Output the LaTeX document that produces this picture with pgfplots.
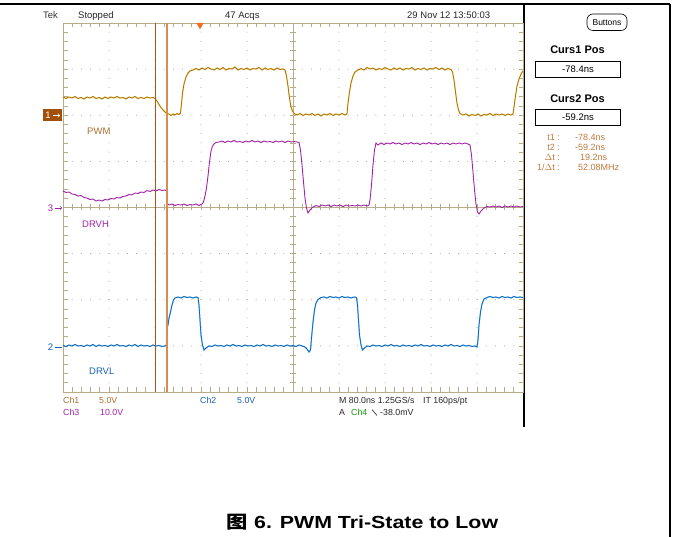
\documentclass[border=0pt]{standalone}
\usepackage{pgfplots}
\pgfplotsset{compat=1.18}
\usepackage{pgfplotstable}
\usepackage{graphicx}
\usepackage{fontspec}
\setmainfont{Liberation Sans}
\newfontfamily\cjk{Noto Sans CJK SC}
\definecolor{gridc}{RGB}{183,172,135}
\definecolor{dotc}{RGB}{150,150,135}
\definecolor{pwmc}{RGB}{175,105,15}
\definecolor{pwmy}{RGB}{235,210,40}
\definecolor{ch1t}{RGB}{175,110,45}
\definecolor{ch3c}{RGB}{160,35,165}
\definecolor{ch2c}{RGB}{25,95,190}
\definecolor{ch2h}{RGB}{20,170,225}
\definecolor{cur1}{RGB}{160,90,35}
\definecolor{cur2}{RGB}{215,140,80}
\definecolor{trigc}{RGB}{240,110,30}
\definecolor{readc}{RGB}{190,120,60}
\definecolor{ch4c}{RGB}{20,150,20}
\definecolor{boxc}{RGB}{160,80,10}

\pgfplotstableread[row sep=\\]{
x y\\
63 97\\ 66 98.5\\ 69 97\\ 72 98\\ 75 96.5\\ 78 98.5\\ 81 97.5\\ 84 99\\ 87 97\\ 90 98\\
93 96.5\\ 96 98.5\\ 99 97.5\\ 102 99\\ 105 97\\ 108 98.5\\ 111 97\\ 114 98\\ 117 96.5\\ 120 98\\
123 97.5\\ 126 99\\ 129 97\\ 132 98\\ 135 96.5\\ 138 98.5\\ 141 97.5\\ 144 98.5\\ 147 97\\ 150 98\\
153 97.5\\ 155 98.5\\ 157 101\\ 159 104.5\\ 161 107.5\\ 163 110\\ 165 112\\ 167 113.5\\ 169 114\\ 171 115.5\\
173 114\\ 175 115\\ 177 113.5\\ 179 114.5\\ 180.5 113\\ 181.5 104\\ 182.5 93\\ 184 84\\ 186 77\\ 188 73\\
190 71\\ 193 70\\ 196 68.5\\ 199 70\\ 202 68\\ 205 69.5\\ 208 67.5\\ 211 69\\ 214 70\\ 217 68\\
220 69.5\\ 223 67.5\\ 226 70\\ 229 68.5\\ 232 69\\ 235 67\\ 238 70\\ 241 68.5\\ 244 69.5\\ 247 68\\
250 70\\ 253 68.5\\ 256 69\\ 259 67.5\\ 262 70\\ 265 68\\ 268 69.5\\ 271 68.5\\ 274 70\\ 277 68\\
280 69.5\\ 283 69\\ 285 70\\ 286.5 76\\ 288 86\\ 289.5 98\\ 291 107\\ 292.5 111\\ 294 113.5\\ 297 115\\
300 113.5\\ 303 115.5\\ 306 114\\ 309 115\\ 312 113.5\\ 315 115.5\\ 318 114\\ 321 116\\ 324 114\\ 327 115\\
330 113.5\\ 333 115.5\\ 336 114\\ 339 115\\ 342 113.5\\ 345 115\\ 347 114\\ 348 103\\ 349.5 92\\ 351 83\\
353 76\\ 355 72\\ 358 70\\ 361 68.5\\ 364 70\\ 367 67.5\\ 370 69\\ 373 68\\ 376 70\\ 379 68.5\\
382 69.5\\ 385 67.5\\ 388 69\\ 391 70\\ 394 68\\ 397 69.5\\ 400 68\\ 403 70\\ 406 68.5\\ 409 69\\
412 67.5\\ 415 70\\ 418 68.5\\ 421 69.5\\ 424 68\\ 427 70\\ 430 68.5\\ 433 69\\ 436 67.5\\ 439 69.5\\
442 68\\ 445 70\\ 448 68.5\\ 451 69.5\\ 452.5 72\\ 454 80\\ 455.5 92\\ 457 103\\ 458.5 110\\ 460 113.5\\
463 115\\ 466 114\\ 469 116\\ 472 114.5\\ 475 115.5\\ 478 114\\ 481 116\\ 484 114.5\\ 487 115\\ 490 113.5\\
493 115.5\\ 496 114\\ 499 115\\ 502 114\\ 505 115.5\\ 508 114\\ 511 115\\ 513 114\\ 514 107\\ 515.5 96\\
517 86\\ 519 79\\ 521 74\\ 523 71\\
}\pwmtab

\pgfplotstableread[row sep=\\]{
x y\\
63 191\\ 66 192.5\\ 69 192\\ 72 194\\ 75 194.5\\ 78 196\\ 81 195.5\\ 84 197.5\\ 87 198\\ 90 199.5\\
93 199\\ 96 201\\ 99 200\\ 102 201\\ 105 199.5\\ 108 200\\ 111 198.5\\ 114 199\\ 117 197.5\\ 120 198\\
123 196.5\\ 126 196\\ 129 194.5\\ 132 195\\ 135 193\\ 138 193.5\\ 141 192\\ 144 192.5\\ 147 190.5\\ 150 191.5\\
153 190\\ 156 191\\ 159 189.5\\ 162 190.5\\ 165 190\\ 166.5 191\\ 167 203\\ 169 205\\ 172 204\\ 175 205.5\\
178 204.5\\ 181 205\\ 184 204\\ 187 205.5\\ 190 204.5\\ 193 205\\ 196 204\\ 199 205.5\\ 202 204\\ 203.5 202\\
205 196\\ 206.5 188\\ 208 176\\ 209.5 162\\ 211 151\\ 212.5 146\\ 214 144\\ 216 142.5\\ 219 142\\ 222 141\\
225 142.5\\ 228 141\\ 231 142\\ 234 140.5\\ 237 142\\ 240 141.5\\ 243 142.5\\ 246 141\\ 249 142\\ 252 140.5\\
255 142\\ 258 141\\ 261 142.5\\ 264 141\\ 267 142\\ 270 141.5\\ 273 142.5\\ 276 141\\ 279 142\\ 282 141\\
285 142.5\\ 288 141\\ 291 142\\ 294 141.5\\ 297 142\\ 299 142.5\\ 300.5 150\\ 302 165\\ 303.5 182\\ 305 198\\
306.5 208\\ 308 213\\ 310 210\\ 313 207\\ 316 205.5\\ 319 206.5\\ 322 205\\ 325 206\\ 328 205\\ 331 206.5\\
334 205\\ 337 206\\ 340 205\\ 343 206.5\\ 346 205\\ 349 206\\ 352 205.5\\ 355 206\\ 358 205\\ 361 206\\
364 205\\ 367 206\\ 369 205\\ 370 200\\ 371.5 185\\ 373 165\\ 374.5 150\\ 376 143\\ 378 145\\ 381 143\\
384 144.5\\ 387 143\\ 390 144\\ 393 142.5\\ 396 144\\ 399 143\\ 402 144.5\\ 405 143\\ 408 144\\ 411 142.5\\
414 144\\ 417 143\\ 420 144.5\\ 423 143\\ 426 144\\ 429 142.5\\ 432 144\\ 435 143\\ 438 144.5\\ 441 143\\
444 144\\ 447 143\\ 450 144.5\\ 453 143\\ 456 144\\ 459 143\\ 462 144\\ 465 143\\ 468 144\\ 470 145\\
471.5 155\\ 473 172\\ 474.5 190\\ 476 204\\ 477.5 212\\ 479 214\\ 481 211\\ 484 208\\ 487 206.5\\ 490 207\\
493 206\\ 496 207\\ 499 206\\ 502 207.5\\ 505 206\\ 508 207\\ 511 206\\ 514 207\\ 517 206\\ 520 207\\
523 206.5\\
}\drvhtab

\pgfplotstableread[row sep=\\]{
x y\\
63 345.5\\ 66 346.5\\ 69 345\\ 72 346\\ 75 344.5\\ 78 346\\ 81 345.5\\ 84 346.5\\ 87 345\\ 90 346\\
93 344.5\\ 96 346.5\\ 99 345\\ 102 346\\ 105 345.5\\ 108 346.5\\ 111 345\\ 114 346\\ 117 344.5\\ 120 346\\
123 345.5\\ 126 346.5\\ 129 345\\ 132 346\\ 135 344.5\\ 138 346.5\\ 141 345\\ 144 346\\ 147 345.5\\ 150 346.5\\
153 345\\ 156 346\\ 159 345.5\\ 162 346.5\\ 165 346\\ 166.5 345\\ 167 328\\ 168 325\\ 169 318\\ 170.5 312\\
172 305\\ 173.5 300\\ 175 298\\ 178 297\\ 181 298\\ 184 296.5\\ 187 297.5\\ 190 297\\ 193 298\\ 196 297\\
198 297.5\\ 199 305\\ 200 320\\ 201 335\\ 202.5 345\\ 204 350\\ 206 348\\ 209 346\\ 212 346.5\\ 215 345\\
218 346\\ 221 345.5\\ 224 346.5\\ 227 345\\ 230 346\\ 233 344.5\\ 236 346\\ 239 345.5\\ 242 346.5\\ 245 345\\
248 346\\ 251 345.5\\ 254 346.5\\ 257 345\\ 260 346\\ 263 344.5\\ 266 346\\ 269 345.5\\ 272 346.5\\ 275 345\\
278 346\\ 281 345.5\\ 284 346.5\\ 287 345\\ 290 346\\ 293 345.5\\ 296 346.5\\ 299 345\\ 302 346\\ 305 347\\
307 349\\ 309 352\\ 310.5 350\\ 311.5 338\\ 313 322\\ 314.5 310\\ 316 303\\ 318 299.5\\ 321 297.5\\ 324 297\\
327 298\\ 330 296.5\\ 333 297.5\\ 336 297\\ 339 298\\ 342 296.5\\ 345 297.5\\ 348 297\\ 351 298\\ 354 297\\
356.5 297.5\\ 357.5 305\\ 358.5 320\\ 359.5 335\\ 361 345\\ 362.5 350\\ 364.5 348\\ 367 346\\ 370 346.5\\ 373 345\\
376 346\\ 379 345.5\\ 382 346.5\\ 385 345\\ 388 346\\ 391 344.5\\ 394 346\\ 397 345.5\\ 400 346.5\\ 403 345\\
406 346\\ 409 345.5\\ 412 346.5\\ 415 345\\ 418 346\\ 421 344.5\\ 424 346\\ 427 345.5\\ 430 346.5\\ 433 345\\
436 346\\ 439 345.5\\ 442 346.5\\ 445 345\\ 448 346\\ 451 344.5\\ 454 346\\ 457 345.5\\ 460 346.5\\ 463 345\\
466 346\\ 469 345.5\\ 472 346.5\\ 475 346\\ 477 347\\ 478 340\\ 479 325\\ 480.5 312\\ 482 304\\ 484 299\\
487 297.5\\ 490 296.5\\ 493 297.5\\ 496 297\\ 499 298\\ 502 296.5\\ 505 297.5\\ 508 297\\ 511 298\\ 514 296.5\\
517 297.5\\ 520 297\\ 523 297.5\\
}\drvltab

\begin{document}
\begin{tikzpicture}
\useasboundingbox (0pt,0pt) rectangle (673pt,-537pt);
\begin{scope}[x=1pt,y=-1pt]
% frame lines
\draw[black, line width=1.3pt] (0,4) -- (670,4);
\draw[black, line width=1.3pt] (524,4) -- (524,427);
\draw[black, line width=1.3pt] (670,4) -- (670,537);
% dotted graticule
\foreach \i in {1,2,3,4,6,7,8,9} {
  \foreach \k in {1,...,39} { \fill[dotc] (63+46*\i, 23+9.225*\k) circle (0.5); }
}
\foreach \j in {1,2,3,5,6,7} {
  \foreach \k in {1,...,49} { \fill[dotc] (63+9.2*\k, 23+46.125*\j) circle (0.5); }
}
% center lines with ticks
\draw[gridc, line width=0.8pt] (63,207.5) -- (523,207.5);
\draw[gridc, line width=0.8pt] (293,23) -- (293,392);
\foreach \k in {1,...,49} { \draw[gridc, line width=0.7pt] (63+9.2*\k,204.5) -- ++(0,6); }
\foreach \k in {1,...,39} { \draw[gridc, line width=0.7pt] (290,23+9.225*\k) -- ++(6,0); }
% border with ticks
\draw[gridc, line width=0.9pt] (63,23) rectangle (523,392);
\foreach \k in {1,...,49} {
  \draw[gridc, line width=0.7pt] (63+9.2*\k,23) -- ++(0,4.5);
  \draw[gridc, line width=0.7pt] (63+9.2*\k,392) -- ++(0,-4.5);
}
\foreach \k in {1,...,39} {
  \draw[gridc, line width=0.7pt] (63,23+9.225*\k) -- ++(4.5,0);
  \draw[gridc, line width=0.7pt] (523,23+9.225*\k) -- ++(-4.5,0);
}
\end{scope}

\begin{axis}[at={(63pt,-392pt)}, anchor=south west, scale only axis,
  width=460pt, height=369pt, xmin=63, xmax=523, ymin=23, ymax=392,
  y dir=reverse, hide axis, clip=false]
\addplot[pwmy, line width=1.3pt, opacity=0.7] table[x=x,y=y] {\pwmtab};
\addplot[pwmc, line width=0.75pt] table[x=x,y=y] {\pwmtab};
\addplot[ch3c, line width=0.9pt] table[x=x,y=y] {\drvhtab};
\addplot[ch2h, line width=1.3pt, opacity=0.6] table[x=x,y=y] {\drvltab};
\addplot[ch2c, line width=0.75pt] table[x=x,y=y] {\drvltab};
% cursors
\addplot[cur1, line width=1.3pt] coordinates {(155.5,23) (155.5,392)};
\addplot[cur2, line width=1.8pt] coordinates {(167,23) (167,392)};
% trigger position marker
\addplot[only marks, mark=triangle*, mark size=3.8pt,
  mark options={rotate=180, fill=trigc, draw=trigc}] coordinates {(200,25)};
\end{axis}

\begin{scope}[x=1pt,y=-1pt]
% channel markers
\fill[boxc] (43,109.5) rectangle (62,121);
\node[white, font=\fontsize{9.5}{10}\selectfont, anchor=center] at (48,115.5) {1};
\draw[white, line width=0.6pt, ->] (52.5,115.5) -- (60,115.5);
\node[ch3c, font=\fontsize{9.5}{10}\selectfont, anchor=center] at (50.5,208) {3};
\draw[ch3c, line width=0.6pt, ->] (55,208) -- (62,208);
\node[ch2c, font=\fontsize{9.5}{10}\selectfont, anchor=center] at (50.5,347) {2};
\draw[ch2c, line width=0.6pt] (55,347) -- (62,347);
% trace labels
\node[ch1t, font=\fontsize{9.5}{10}\selectfont, anchor=base west, inner sep=0] at (87,135) {PWM};
\node[ch3c, font=\fontsize{9.5}{10}\selectfont, anchor=base west, inner sep=0] at (82,228) {DRVH};
\node[ch2c, font=\fontsize{9.5}{10}\selectfont, anchor=base west, inner sep=0] at (89,375) {DRVL};
% top status line
\node[black!80, font=\fontsize{9.5}{11}\selectfont, anchor=base west, inner sep=0] at (43,18.5) {Tek};
\node[black!85, font=\fontsize{9.5}{11}\selectfont, anchor=base west, inner sep=0] at (78,18.5) {Stopped};
\node[black!85, font=\fontsize{9.5}{11}\selectfont, anchor=base west, inner sep=0] at (225,18.5) {47 Acqs};
\node[black!85, font=\fontsize{9.5}{11}\selectfont, anchor=base west, inner sep=0] at (407,18.5) {29 Nov 12 13:50:03};
\draw[black, line width=0.6pt, rounded corners=6pt] (587,14) rectangle (627,30.5);
\node[black, font=\fontsize{8.5}{10}\selectfont, anchor=center] at (607,22.5) {Buttons};
% cursor panel
\node[black, font=\bfseries\fontsize{11}{13}\selectfont, anchor=base, inner sep=0] at (577.5,54) {Curs1 Pos};
\draw[black, line width=0.8pt] (535.5,61.5) rectangle (620.5,77.5);
\node[black, font=\fontsize{9.5}{11}\selectfont, anchor=center] at (578,69.5) {-78.4ns};
\node[black, font=\bfseries\fontsize{11}{13}\selectfont, anchor=base, inner sep=0] at (577.5,103) {Curs2 Pos};
\draw[black, line width=0.8pt] (535.5,109.5) rectangle (620.5,125.5);
\node[black, font=\fontsize{9.5}{11}\selectfont, anchor=center] at (578,117.5) {-59.2ns};
\begin{scope}[every node/.style={readc, font=\fontsize{9}{10}\selectfont, inner sep=0}]
\node[anchor=base east] at (560,141) {t1 :};
\node[anchor=base east] at (560,151) {t2 :};
\node[anchor=base east] at (560,161) {$\Delta$t :};
\node[anchor=base east] at (560,171) {1/$\Delta$t :};
\node[anchor=base west] at (575,141) {-78.4ns};
\node[anchor=base west] at (575,151) {-59.2ns};
\node[anchor=base west] at (580,161) {19.2ns};
\node[anchor=base west] at (578,171) {52.08MHz};
\end{scope}
% bottom readouts
\begin{scope}[every node/.style={font=\fontsize{8.8}{10}\selectfont, inner sep=0, anchor=base west}]
\node[ch1t] at (63,404) {Ch1};
\node[ch1t] at (99,404) {5.0V};
\node[ch3c] at (63,416) {Ch3};
\node[ch3c] at (100,416) {10.0V};
\node[ch2c] at (200,404) {Ch2};
\node[ch2c] at (237,404) {5.0V};
\node[black!85] at (339,404) {M 80.0ns 1.25GS/s};
\node[black!85] at (423,404) {IT 160ps/pt};
\node[black!85] at (339,416) {A};
\node[ch4c] at (351,416) {Ch4};
\node[black!85] at (380,416) {-38.0mV};
\end{scope}
\draw[black!85, line width=0.6pt] (372,409.5) -- (377,415.5);
% caption
\node[black, font=\bfseries\fontsize{17.5}{20}\selectfont, anchor=base, inner sep=0] at (362.5,528.5)
  {\scalebox{1.22}[1]{{\cjk 图} 6. PWM Tri-State to Low}};
\end{scope}
\end{tikzpicture}
\end{document}
